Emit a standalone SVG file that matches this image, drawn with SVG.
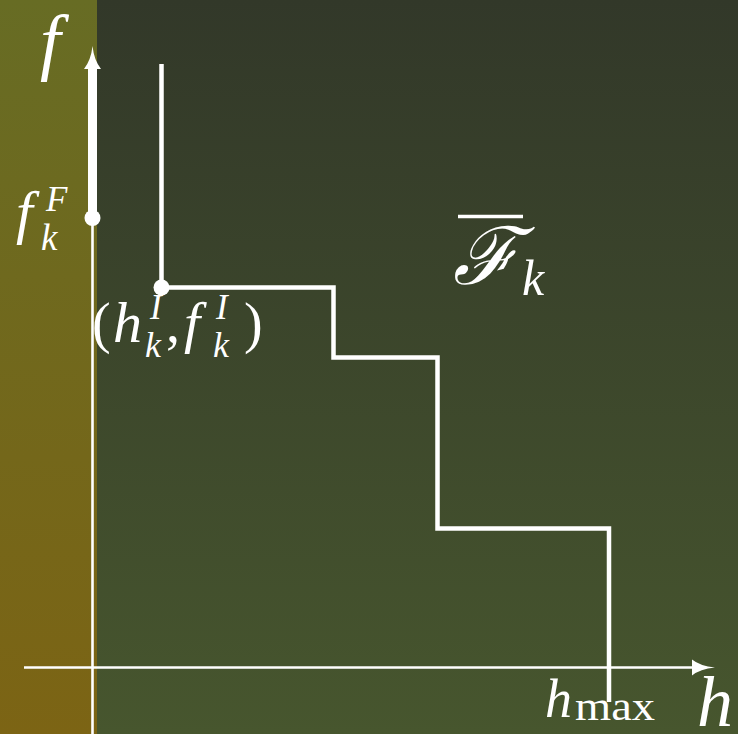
<svg xmlns="http://www.w3.org/2000/svg" width="738" height="734" viewBox="0 0 738 734">
<defs>
<linearGradient id="bg" x1="0" y1="0" x2="0" y2="1">
<stop offset="0" stop-color="#323829"/>
<stop offset="1" stop-color="#47562e"/>
</linearGradient>
<linearGradient id="strip" x1="0" y1="0" x2="0" y2="1">
<stop offset="0" stop-color="#676c24"/>
<stop offset="1" stop-color="#7c6414"/>
</linearGradient>
<style>
.ln{stroke:#fff;fill:none;stroke-linecap:butt;stroke-linejoin:miter}
.it{font-family:"Liberation Serif","Times New Roman",serif;font-style:italic;fill:#fff}
.rm{font-family:"Liberation Serif","Times New Roman",serif;font-style:normal;fill:#fff}
.dot{fill:#fff}
</style>
</defs>
<rect width="738" height="734" fill="url(#bg)"/>
<rect width="97" height="734" fill="url(#strip)"/>
<g id="connectors">
<g id="f-axis">
<line class="ln" x1="92.5" y1="734" x2="92.5" y2="60" stroke-width="2.6"/>
<line class="ln" x1="92.5" y1="218" x2="92.5" y2="66" stroke-width="9"/>
<path d="M92.5,46 Q94,60 101,69 L84,69 Q91,60 92.5,46 Z" fill="#fff"/>
</g>
<g id="h-axis">
<line class="ln" x1="24" y1="667.5" x2="700" y2="667.5" stroke-width="2.6"/>
<path d="M715,667.5 Q700,669 692,675.5 L692,659.5 Q700,666 715,667.5 Z" fill="#fff"/>
</g>
</g>
<g id="step-function">
<polyline class="ln" stroke-width="4.5" points="161.5,64 161.5,287.5 333.5,287.5 333.5,357.5 437.5,357.5 437.5,528.5 609,528.5 609,702"/>
<circle class="dot" cx="161.5" cy="287.5" r="8"/>
</g>
<g id="fF-point">
<circle class="dot" cx="92.5" cy="218" r="8"/>
</g>
<g id="labels">
<text id="label-f" class="it" x="40" y="66" font-size="74">f</text>
<text id="label-h" class="it" x="697" y="726" font-size="72">h</text>
<text id="label-fkF" class="it"><tspan x="16" y="232" font-size="60">f</tspan><tspan x="46" y="211" font-size="35">F</tspan><tspan x="41" y="250" font-size="37">k</tspan></text>
<text id="label-hkI-fkI" class="it"><tspan class="rm" x="92" y="342" font-size="56">(</tspan><tspan x="113" y="342" font-size="58">h</tspan><tspan x="150" y="319" font-size="35">I</tspan><tspan x="145" y="357" font-size="36">k</tspan><tspan class="rm" x="166" y="342" font-size="56">,</tspan><tspan x="184" y="342" font-size="58">f</tspan><tspan x="216" y="319" font-size="35">I</tspan><tspan x="213" y="357" font-size="36">k</tspan><tspan class="rm" x="244" y="342" font-size="56">)</tspan></text>
<g id="label-Fbar">
<line class="ln" x1="458" y1="216.5" x2="523" y2="216.5" stroke-width="3.5"/>
<text font-family="DejaVu Serif, serif" font-style="italic" fill="#fff"><tspan x="453" y="284" font-size="80">ℱ</tspan><tspan class="it" x="522" y="295" font-size="50">k</tspan></text>
</g>
<text id="label-hmax" class="it"><tspan x="545" y="717" font-size="54">h</tspan><tspan class="rm" x="575" y="720" font-size="40" textLength="80" lengthAdjust="spacingAndGlyphs">max</tspan></text>
</g>
</svg>
